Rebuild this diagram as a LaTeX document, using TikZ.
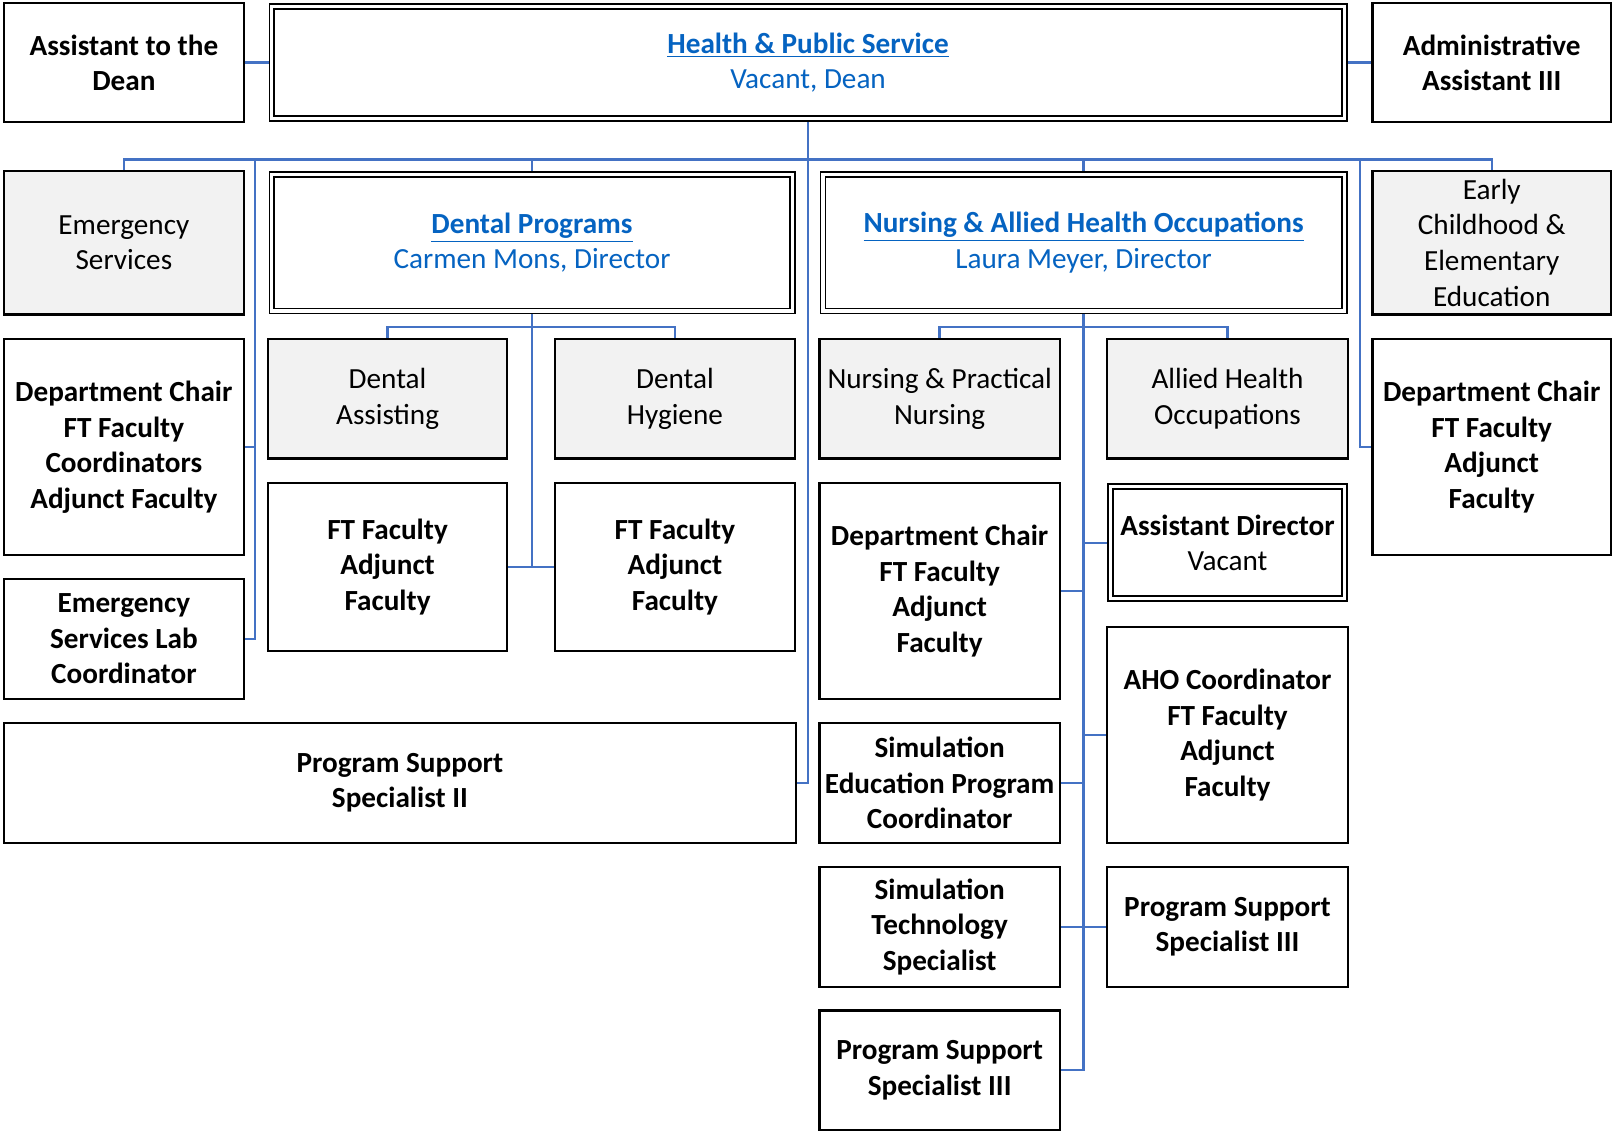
\documentclass[tikz,border=0pt]{standalone}
\usepackage{fontspec}
\setmainfont{Carlito}
\usetikzlibrary{backgrounds}
\definecolor{linkblue}{HTML}{0563C1}
\definecolor{connblue}{HTML}{4472C4}
\definecolor{unitgray}{HTML}{F2F2F2}
\tikzset{
    box/.style={draw=black, line width=1.1pt, fill=white, align=center, inner sep=1pt,
        font=\fontsize{14.2}{17.3}\selectfont\bfseries},
    unit/.style={box, fill=unitgray, font=\fontsize{14.2}{17.3}\selectfont},
    head/.style={box, double, line width=0.9pt, double distance=1.5pt, text=linkblue,
        font=\fontsize{14.2}{17.3}\selectfont},
    sz/.style 2 args={minimum width=#1*0.5pt, minimum height=#2*0.5pt},
    conn/.style={draw=connblue, line width=1.2pt}
}
\newcommand{\hlink}[1]{\textbf{\underline{#1}}}

\begin{document}
\begin{tikzpicture}[x=0.5pt,y=-0.5pt]
    \useasboundingbox (0,0) rectangle (1568,1102);
    % top row
    \node[box,sz={233}{116}] (asst) at (120.5,61) {Assistant to the\\Dean};
    \node[head,sz={1043}{109}] (dean) at (786,61) {\hlink{Health \& Public Service}\\Vacant, Dean};
    \node[box,sz={232}{116}] (admin) at (1451,61) {Administrative\\Assistant III};
    % divisions
    \node[unit,sz={233}{140}] (es) at (120.5,236) {Emergency\\Services};
    \node[head,sz={506}{133}] (dental) at (517.5,236) {\hlink{Dental Programs}\\Carmen Mons, Director};
    \node[head,sz={507}{133}] (nursing) at (1054,236) {\hlink{Nursing \& Allied Health Occupations}\\Laura Meyer, Director};
    \node[unit,sz={232}{140}] (ece) at (1451,236) {Early\\Childhood \&\\Elementary\\Education};
    % emergency services
    \node[box,sz={233}{210}] (eschair) at (120.5,435) {Department Chair\\FT Faculty\\Coordinators\\Adjunct Faculty};
    \node[box,sz={233}{117}] (eslab) at (120.5,621.5) {Emergency\\Services Lab\\Coordinator};
    \node[box,sz={770}{117}] (pss2) at (389,761.5) {Program Support\\Specialist II};
    % dental
    \node[unit,sz={232}{116}] (da) at (377,388) {Dental\\Assisting};
    \node[unit,sz={233}{116}] (dh) at (656.5,388) {Dental\\Hygiene};
    \node[box,sz={232}{163}] (dafac) at (377,551.5) {FT Faculty\\Adjunct\\Faculty};
    \node[box,sz={233}{163}] (dhfac) at (656.5,551.5) {FT Faculty\\Adjunct\\Faculty};
    % nursing
    \node[unit,sz={234}{116}] (np) at (914,388) {Nursing \& Practical\\Nursing};
    \node[unit,sz={234}{116}] (ah) at (1194,388) {Allied Health\\Occupations};
    \node[box,sz={234}{210}] (nchair) at (914,575) {Department Chair\\FT Faculty\\Adjunct\\Faculty};
    \node[head,sz={227}{109},text=black] (adir) at (1194,528) {\textbf{Assistant Director}\\Vacant};
    \node[box,sz={234}{210}] (aho) at (1194,715) {AHO Coordinator\\FT Faculty\\Adjunct\\Faculty};
    \node[box,sz={234}{117}] (simed) at (914,761.5) {Simulation\\Education Program\\Coordinator};
    \node[box,sz={234}{117}] (simtech) at (914,901.5) {Simulation\\Technology\\Specialist};
    \node[box,sz={234}{117}] (pss3r) at (1194,901.5) {Program Support\\Specialist III};
    \node[box,sz={234}{116}] (pss3b) at (914,1041) {Program Support\\Specialist III};
    % early childhood
    \node[box,sz={232}{210}] (rchair) at (1451,435) {Department Chair\\FT Faculty\\Adjunct\\Faculty};

    \begin{pgfonlayer}{background}
        \coordinate (bus) at (786,155);
        \coordinate (esbus) at (248,155);
        \coordinate (ecebus) at (1323,155);
        \coordinate (dbus) at (517.5,318);
        \coordinate (nbus) at (1054,318);
        \draw[conn] (asst) -- (dean);
        \draw[conn] (dean) -- (admin);
        \draw[conn] (es.north) |- (bus) -| (ece.north);
        \draw[conn] (dental.north) -- (dental.north |- bus);
        \draw[conn] (nursing.north) -- (nursing.north |- bus);
        \draw[conn] (dean.south) |- (pss2.east);
        \draw[conn] (esbus) |- (eslab.east);
        \draw[conn] (eschair.east) -| (esbus);
        \draw[conn] (rchair.west) -| (ecebus);
        % dental branch
        \draw[conn] (da.north) |- (dbus) -| (dh.north);
        \draw[conn] (dental.south) |- (dafac.east);
        \draw[conn] (dafac.east) -- (dhfac.west);
        % nursing branch
        \draw[conn] (np.north) |- (nbus) -| (ah.north);
        \draw[conn] (nursing.south) |- (pss3b.east);
        \foreach \n in {nchair,simed,simtech}
            \draw[conn] (\n.east) -- (\n.east -| nursing.south);
        \foreach \n in {adir,aho,pss3r}
            \draw[conn] (\n.west) -- (\n.west -| nursing.south);
    \end{pgfonlayer}
\end{tikzpicture}
\end{document}
